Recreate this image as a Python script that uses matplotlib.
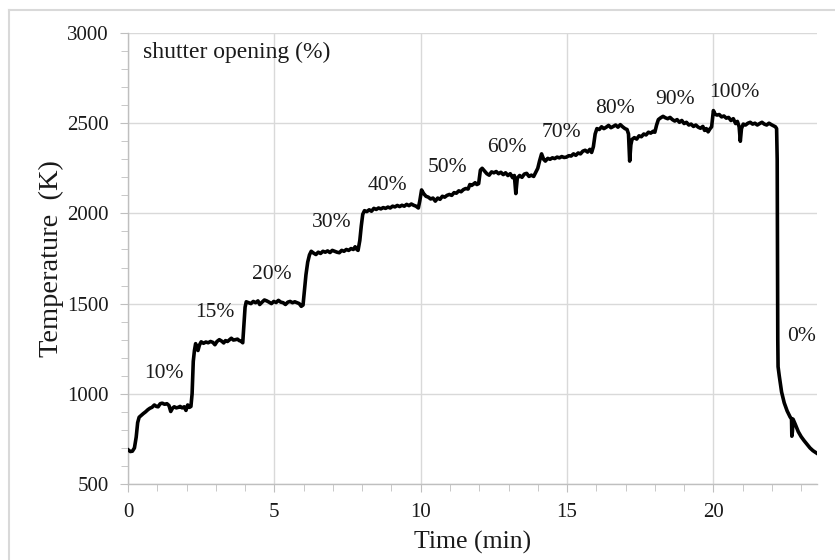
import matplotlib
matplotlib.use('Agg')
import matplotlib.pyplot as plt
from matplotlib.ticker import MultipleLocator
from matplotlib.lines import Line2D

# temperature trace (min, K)
time_min = [
    0.00, 0.08, 0.15, 0.22, 0.28, 0.33, 0.38, 0.45, 0.52, 0.60, 0.68, 0.75, 0.82, 0.90, 0.97,
    1.03, 1.10, 1.17, 1.25, 1.33, 1.40, 1.46, 1.52, 1.58, 1.65, 1.72, 1.78, 1.85, 1.92, 1.98,
    2.04, 2.10, 2.15, 2.19, 2.23, 2.27, 2.31, 2.35, 2.39, 2.44, 2.50,
    2.58, 2.66, 2.74, 2.82, 2.90, 2.97, 3.04, 3.12, 3.20, 3.27, 3.33, 3.40, 3.46, 3.53, 3.60,
    3.67, 3.74, 3.80, 3.86, 3.92, 3.96, 4.00, 4.04,
    4.12, 4.20, 4.28, 4.36, 4.44, 4.50, 4.58, 4.66, 4.74, 4.82, 4.90, 4.98, 5.06, 5.14, 5.22,
    5.30, 5.38, 5.46, 5.54, 5.62, 5.70, 5.78, 5.85, 5.92, 5.98, 6.02, 6.08, 6.14, 6.20, 6.26,
    6.34, 6.42, 6.50, 6.58, 6.66, 6.74, 6.82, 6.90, 6.98, 7.06, 7.14, 7.22, 7.30, 7.38, 7.46,
    7.54, 7.62, 7.70, 7.76, 7.82, 7.86, 7.92, 7.97, 8.02, 8.08,
    8.16, 8.24, 8.32, 8.40, 8.48, 8.56, 8.64, 8.72, 8.80, 8.88, 8.96, 9.04, 9.12, 9.20, 9.28,
    9.36, 9.44, 9.52, 9.60, 9.68, 9.76, 9.84, 9.92, 9.97, 10.03, 10.10, 10.18,
    10.26, 10.34, 10.42, 10.50, 10.58, 10.66, 10.74, 10.82, 10.90, 10.98, 11.06, 11.14, 11.22,
    11.30, 11.38, 11.46, 11.54, 11.62, 11.68, 11.74, 11.80, 11.86, 11.92, 11.98, 12.04, 12.10,
    12.18, 12.26, 12.34, 12.42, 12.50, 12.58, 12.66, 12.74, 12.82, 12.90, 12.98, 13.06, 13.14,
    13.20, 13.25, 13.30, 13.38, 13.46, 13.54, 13.62, 13.70, 13.78, 13.86, 13.94, 14.00, 14.06,
    14.13, 14.20, 14.26,
    14.34, 14.42, 14.50, 14.58, 14.66, 14.74, 14.82, 14.90, 14.98, 15.06, 15.14, 15.22, 15.30,
    15.38, 15.46, 15.54, 15.62, 15.70, 15.78, 15.84, 15.90, 15.96, 16.02,
    16.10, 16.18, 16.26, 16.34, 16.42, 16.50, 16.58, 16.66, 16.74, 16.82, 16.90, 16.98, 17.05,
    17.10, 17.14, 17.18, 17.22, 17.30, 17.38, 17.46, 17.54, 17.62, 17.70, 17.78, 17.86, 17.94,
    18.00,
    18.06, 18.12, 18.20, 18.28, 18.36, 18.44, 18.52, 18.60, 18.68, 18.76, 18.84, 18.92, 19.00,
    19.08, 19.16, 19.24, 19.32, 19.40, 19.48, 19.56, 19.64, 19.70, 19.76, 19.82, 19.88, 19.94,
    20.00,
    20.06, 20.12, 20.20, 20.28, 20.36, 20.44, 20.52, 20.60, 20.68, 20.76, 20.82, 20.88, 20.92,
    20.96, 21.02, 21.10, 21.18, 21.26, 21.34, 21.42, 21.50, 21.58, 21.66, 21.74, 21.82, 21.90,
    21.98, 22.06, 22.12, 22.16,
    22.18, 22.19, 22.20, 22.21, 22.25, 22.33, 22.42, 22.52, 22.62, 22.67, 22.68, 22.70, 22.72,
    22.80, 22.90, 23.00, 23.10, 23.20, 23.30, 23.40, 23.52,
]
temp_k = [
    690, 680, 682, 700, 760, 840, 870, 880, 890, 900, 912, 920, 925, 938, 930,
    928, 945, 948, 942, 945, 935, 902, 920, 928, 922, 925, 930, 922, 928, 908,
    938, 925, 930, 1000, 1180, 1240, 1278, 1262, 1240, 1270, 1288,
    1280, 1287, 1283, 1290, 1285, 1272, 1290, 1300, 1292, 1282, 1295, 1290, 1298, 1308, 1298,
    1300, 1303, 1295, 1292, 1283, 1380, 1480, 1510,
    1505, 1500, 1512, 1505, 1515, 1495, 1508, 1520, 1515, 1508, 1500, 1512, 1506, 1518, 1508,
    1505, 1495, 1508, 1512, 1505, 1510, 1505, 1500, 1485, 1492, 1560, 1660, 1730, 1770, 1790,
    1780, 1772, 1785, 1778, 1790, 1785, 1792, 1783, 1795, 1790, 1785, 1782, 1795, 1790, 1800,
    1795, 1805, 1800, 1815, 1800, 1795, 1850, 1930, 1995, 2015,
    2010, 2020, 2012, 2028, 2022, 2030, 2025, 2032, 2028, 2035, 2030, 2040, 2036, 2044, 2038,
    2045, 2040, 2050, 2043, 2052, 2045, 2040, 2030, 2070, 2130, 2110, 2095,
    2090, 2080, 2085, 2068, 2085, 2078, 2095, 2090, 2100, 2105, 2100, 2115, 2112,
    2125, 2120, 2132, 2138, 2135, 2160, 2155, 2162, 2170, 2160, 2165, 2240, 2250,
    2235, 2220, 2212, 2230, 2225, 2232, 2220, 2228, 2215, 2225, 2210, 2220, 2198,
    2210, 2110, 2195, 2210, 2200, 2218, 2222, 2205, 2212, 2205, 2230, 2250, 2290,
    2330, 2300, 2290,
    2305, 2300, 2308, 2304, 2312, 2308, 2315, 2310, 2312, 2320, 2318, 2330, 2322,
    2335, 2330, 2345, 2350, 2340, 2355, 2338, 2370, 2440, 2470,
    2465, 2480, 2470, 2478, 2488, 2475, 2482, 2490, 2478, 2492, 2480, 2470, 2465,
    2440, 2290, 2380, 2410, 2420, 2412, 2430, 2425, 2440, 2435, 2450, 2445, 2455,
    2450,
    2490, 2520, 2530, 2538, 2530, 2525, 2532, 2520, 2512, 2520, 2505, 2515, 2498,
    2505, 2490, 2495, 2482, 2490, 2478, 2472, 2482, 2460, 2470, 2452, 2468, 2480,
    2570,
    2550, 2545, 2548, 2535, 2540, 2528, 2532, 2515, 2525, 2498, 2510, 2480, 2400,
    2470, 2495, 2490, 2500, 2505, 2495, 2500, 2490, 2498, 2505, 2495, 2490, 2500,
    2492, 2485, 2480, 2470,
    2300, 1800, 1300, 1150, 1100, 1010, 950, 905, 872, 860, 765, 790, 860,
    830, 790, 762, 740, 720, 700, 685, 672,
]

# shutter opening annotations (text, time, temperature)
step_labels = ['10%', '15%', '20%', '30%', '40%', '50%', '60%', '70%', '80%', '90%', '100%', '0%']
label_t = [1.23, 2.97, 4.92, 6.97, 8.88, 10.93, 12.93, 14.80, 16.65, 18.68, 20.70, 23.02]
label_k = [1115, 1448, 1662, 1947, 2157, 2252, 2363, 2446, 2579, 2634, 2669, 1316]

plt.rcParams['font.family'] = ['Liberation Serif', 'DejaVu Serif']

fig = plt.figure(figsize=(8.35, 5.6), dpi=100)
ax = fig.add_axes([128 / 835, 76 / 560, 689 / 835, 451 / 560])

ax.plot(time_min, temp_k, color='black', lw=2.6, solid_joinstyle='round', zorder=3)

for txt, t, k in zip(step_labels, label_t, label_k):
    ax.text(t, k, txt, fontsize=15.5, ha='center', va='center', color='#1a1a1a')
ax.text(0.5, 2895, 'shutter opening (%)', fontsize=17, ha='left', va='center', color='#1a1a1a')

ax.set_xlim(0, 23.54)
ax.set_ylim(500, 3000)
ax.xaxis.set_major_locator(MultipleLocator(5))
ax.xaxis.set_minor_locator(MultipleLocator(1))
ax.yaxis.set_major_locator(MultipleLocator(500))
ax.yaxis.set_minor_locator(MultipleLocator(100))

ax.grid(True, which='major', color='#d9d9d9', lw=1.0, zorder=0)
ax.set_axisbelow(True)
for s in ['top', 'right']:
    ax.spines[s].set_visible(False)
for s in ['left', 'bottom']:
    ax.spines[s].set_color('#bfbfbf')
    ax.spines[s].set_linewidth(1.0)

ax.tick_params(which='major', length=6, color='#bfbfbf', labelsize=15, labelcolor='#1a1a1a', pad=8)
ax.tick_params(which='minor', length=5, color='#bfbfbf')

ax.set_xlabel('Time (min)', fontsize=18.5, color='#1a1a1a', labelpad=6)
ax.set_ylabel('Temperature  (K)', fontsize=20.5, color='#1a1a1a', labelpad=2)

# chart-area border (light gray, runs off the right and bottom)
fx = 9 / 835
fy = 1 - 10 / 560
fig.add_artist(Line2D([fx, 1.0], [fy, fy], color='#d9d9d9', lw=1.5, transform=fig.transFigure))
fig.add_artist(Line2D([fx, fx], [0.0, fy], color='#d9d9d9', lw=1.5, transform=fig.transFigure))

fig.savefig('out.png', dpi=100)
